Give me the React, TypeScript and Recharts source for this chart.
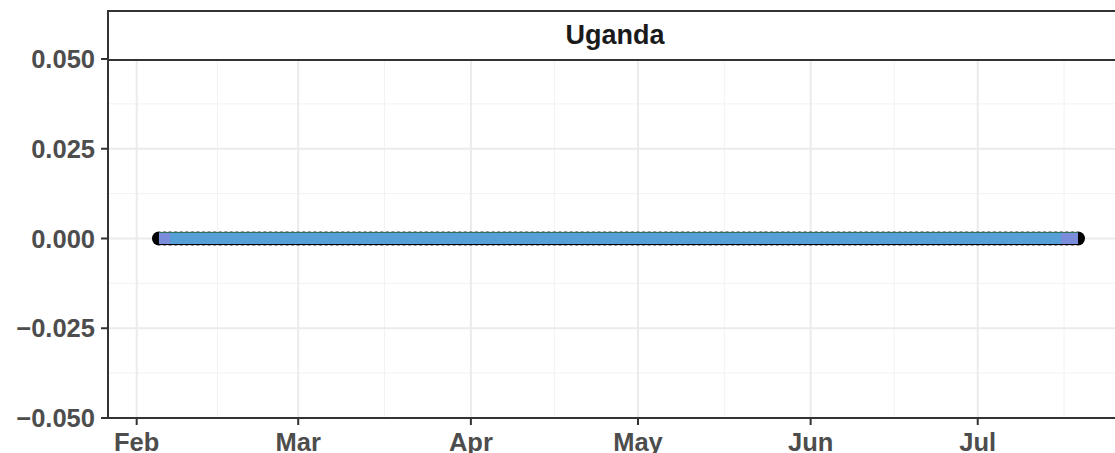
import React from 'react';
import { ComposedChart, Line, XAxis, YAxis, ReferenceLine } from 'recharts';

// days are counted from 1 Feb 2020 (leap year)
const monthTicks = [0, 29, 60, 90, 121, 151];
const monthLabels = ['Feb', 'Mar', 'Apr', 'May', 'Jun', 'Jul'];
const minorX = [14.5, 44.5, 75, 105.5, 136, 166.5];

const yTicks = [-0.05, -0.025, 0, 0.025, 0.05];
const minorY = [-0.0375, -0.0125, 0.0125, 0.0375];

// reported series runs daily from 5 Feb to 19 Jul, every value reads 0
const firstDay = 4;
const lastDay = 169;
// the blue band starts/ends a couple of days in from the purple one
const innerFirst = 6;
const innerLast = 166;

const days: number[] = [];
for (let d = firstDay; d <= lastDay; d++) days.push(d);
const cases = days.map(() => 0);

const rows = days.map((day, i) => ({
  day,
  cases: cases[i],
  inner: day >= innerFirst && day <= innerLast ? cases[i] : null,
}));

const X_DOMAIN: [number, number] = [-5.15, 176.9];
const PLOT_W = 1014;
const STEP = PLOT_W / (X_DOMAIN[1] - X_DOMAIN[0]); // px per day
const BAND_H = 12;

const FONT = '"Liberation Sans", Arial, sans-serif';
const fmtY = (v: number) => (v < 0 ? '\u2212' : '') + Math.abs(v).toFixed(3);
const fmtX = (v: number) => monthLabels[monthTicks.indexOf(v)] ?? '';

const Dot = (p: any) => <circle key={'d' + p.index} cx={p.cx} cy={p.cy} r={7} fill="#000" />;

// Recharts draws line dots above all curves, so the band is drawn as per-day pieces
const bandPiece = (fill: string, from: number, to: number) => (p: any) => {
  if (p.cx == null || p.cy == null || p.value == null) return <g key={'e' + p.index} />;
  const day = p.payload.day;
  const x0 = day === from ? p.cx : p.cx - STEP / 2 - 0.4;
  const x1 = day === to ? p.cx : p.cx + STEP / 2 + 0.4;
  const top = p.cy - BAND_H / 2 - 0.5;
  return (
    <g key={'b' + p.index}>
      <rect x={x0} y={top} width={x1 - x0} height={BAND_H} fill={fill} />
      <rect x={x0} y={top} width={x1 - x0} height={1} fill="#2f6f55" />
    </g>
  );
};

export default function App() {
  return (
    <div style={{ position: 'absolute', left: 0, top: 0, width: 1115, height: 453, overflow: 'hidden', background: '#fff', fontFamily: FONT }}>
      <ComposedChart width={1130} height={453} data={rows} margin={{ top: 59, right: 8, left: 0, bottom: 0 }}>
        {minorX.map((x) => (
          <ReferenceLine key={'mx' + x} x={x} stroke="#f2f2f2" strokeWidth={1} />
        ))}
        {minorY.map((y) => (
          <ReferenceLine key={'my' + y} y={y} stroke="#f2f2f2" strokeWidth={1} />
        ))}
        {monthTicks.map((x) => (
          <ReferenceLine key={'x' + x} x={x} stroke="#ebebeb" strokeWidth={2} />
        ))}
        {yTicks.map((y) => (
          <ReferenceLine key={'y' + y} y={y} stroke="#ebebeb" strokeWidth={2} />
        ))}
        <XAxis
          type="number"
          dataKey="day"
          domain={X_DOMAIN}
          ticks={monthTicks}
          tickFormatter={fmtX}
          interval={0}
          allowDataOverflow
          height={35}
          tickSize={7}
          tickMargin={8}
          axisLine={{ stroke: '#333', strokeWidth: 2 }}
          tickLine={{ stroke: '#333', strokeWidth: 2 }}
          tick={{ fill: '#4d4d4d', fontSize: 25.5, fontWeight: 700, fontFamily: FONT }}
        />
        <YAxis
          type="number"
          domain={[-0.05, 0.05]}
          ticks={yTicks}
          tickFormatter={fmtY}
          interval={0}
          allowDataOverflow
          width={108}
          tickSize={7}
          tickMargin={6}
          axisLine={{ stroke: '#333', strokeWidth: 2 }}
          tickLine={{ stroke: '#333', strokeWidth: 2 }}
          tick={{ fill: '#4d4d4d', fontSize: 25.5, fontWeight: 700, fontFamily: FONT }}
        />
        <Line dataKey="cases" stroke="none" dot={Dot} activeDot={false} isAnimationActive={false} />
        <Line dataKey="cases" stroke="none" dot={bandPiece('#7b8cdb', firstDay, lastDay)} activeDot={false} isAnimationActive={false} />
        <Line dataKey="inner" stroke="none" dot={bandPiece('#569fd7', innerFirst, innerLast)} activeDot={false} isAnimationActive={false} />
      </ComposedChart>
      <div
        style={{
          position: 'absolute',
          left: 107,
          top: 10,
          width: 1012,
          height: 47,
          border: '2px solid #333',
          background: '#fff',
          display: 'flex',
          alignItems: 'center',
          justifyContent: 'center',
          fontSize: 27,
          fontWeight: 700,
          color: '#1a1a1a',
          boxSizing: 'content-box',
        }}
      >
        Uganda
      </div>
    </div>
  );
}
